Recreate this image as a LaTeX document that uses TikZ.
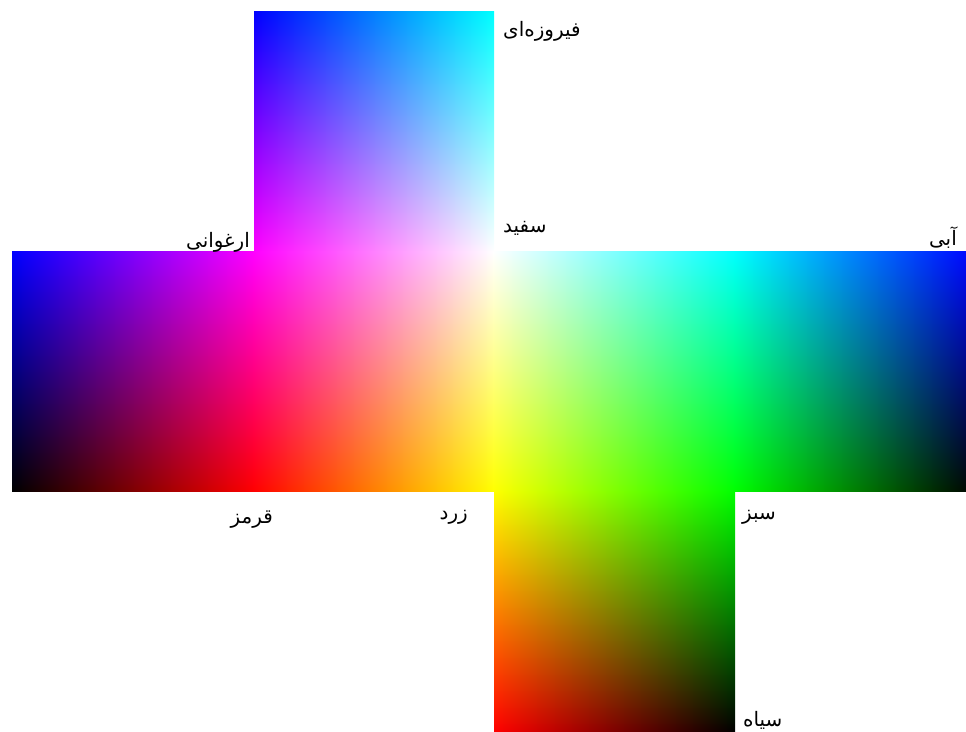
\documentclass[tikz,border=0pt]{standalone}
\usepackage{fontspec}
\usepackage{tikz}
\TeXXeTstate=1
\newfontfamily\farsifont[Script=Arabic]{DejaVu Sans}

% one shading per face of the unfolded RGB cube (u, v from 0 to 1 over the face)
\pgfdeclarefunctionalshading{faceTop}{\pgfpoint{0bp}{0bp}}{\pgfpoint{100bp}{100bp}}{}{
  25 sub 50 div exch 25 sub 50 div exch 1 exch sub exch 1 }
\pgfdeclarefunctionalshading{faceA}{\pgfpoint{0bp}{0bp}}{\pgfpoint{100bp}{100bp}}{}{
  25 sub 50 div exch 25 sub 50 div exch 0 exch }
\pgfdeclarefunctionalshading{faceB}{\pgfpoint{0bp}{0bp}}{\pgfpoint{100bp}{100bp}}{}{
  25 sub 50 div exch 25 sub 50 div exch 1 3 1 roll }
\pgfdeclarefunctionalshading{faceC}{\pgfpoint{0bp}{0bp}}{\pgfpoint{100bp}{100bp}}{}{
  25 sub 50 div exch 25 sub 50 div exch exch 1 exch sub exch 1 exch }
\pgfdeclarefunctionalshading{faceD}{\pgfpoint{0bp}{0bp}}{\pgfpoint{100bp}{100bp}}{}{
  25 sub 50 div exch 25 sub 50 div exch exch 1 exch sub exch 0 3 1 roll }
\pgfdeclarefunctionalshading{faceBottom}{\pgfpoint{0bp}{0bp}}{\pgfpoint{100bp}{100bp}}{}{
  25 sub 50 div exch 25 sub 50 div exch exch 1 exch sub exch 0 }

\begin{document}
\begin{tikzpicture}[
        x=1bp, y=1bp,
        lbl/.style={inner sep=0pt, font=\farsifont\fontsize{20}{24}\selectfont}
    ]
    \useasboundingbox (0,0) rectangle (966,732);

    % faces
    \shade [shading=faceTop] (254,480) rectangle (494,720);
    \shade [shading=faceA] (12,240) rectangle (254,480);
    \shade [shading=faceB] (253.5,240) rectangle (494,480);
    \shade [shading=faceC] (493.5,240) rectangle (735,480);
    \shade [shading=faceD] (734.5,240) rectangle (976,480);
    \shade [shading=faceBottom] (494,0) rectangle (735,240.5);

    % corner names
    \node [lbl, anchor=west] (cyan) at (503,701) {\beginR فیروزه‌ای\endR};
    \node [lbl, anchor=west] (white) at (503,504) {\beginR سفید\endR};
    \node [lbl, anchor=east] (magenta) at (250,490) {\beginR ارغوانی\endR};
    \node [lbl, anchor=east] (blue) at (957,494) {\beginR آبی\endR};
    \node [lbl, anchor=east] (red) at (273,212) {\beginR قرمز\endR};
    \node [lbl, anchor=east] (yellow) at (468,215) {\beginR زرد\endR};
    \node [lbl, anchor=west] (green) at (742,215) {\beginR سبز\endR};
    \node [lbl, anchor=west] (black) at (743,12) {\beginR سیاه\endR};
\end{tikzpicture}
\end{document}
